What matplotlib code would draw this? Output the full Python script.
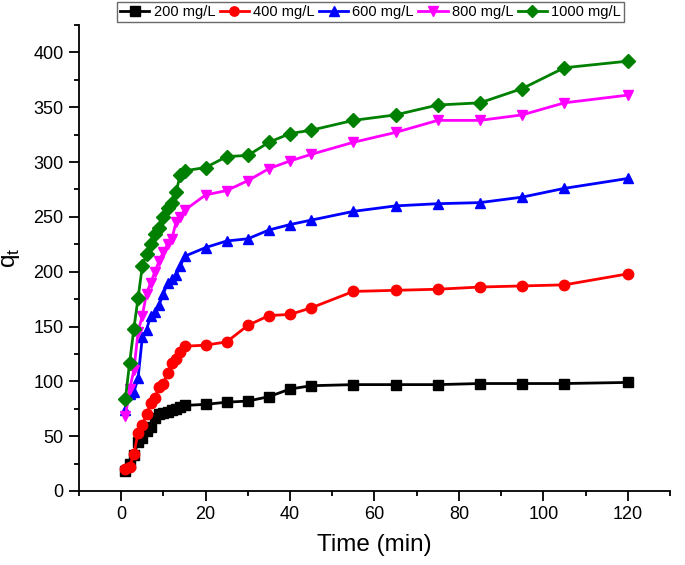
import numpy as np
import matplotlib.pyplot as plt
from matplotlib.ticker import MultipleLocator

plt.rcParams['font.family'] = ['Liberation Sans', 'DejaVu Sans']

# tiempos de contacto (min)
tiempo = [1, 2, 3, 4, 5, 6, 7, 8, 9, 10, 11, 12, 13, 14, 15,
          20, 25, 30, 35, 40, 45, 55, 65, 75, 85, 95, 105, 120]

q_200 = [18, 25, 33, 45, 48, 55, 58, 67, 70, 71, 72, 74, 75, 77, 78,
         79, 81, 82, 86, 93, 96, 97, 97, 97, 98, 98, 98, 99]
q_400 = [20, 22, 34, 53, 60, 70, 80, 85, 95, 98, 108, 117, 120, 127, 132,
         133, 136, 151, 160, 161, 167, 182, 183, 184, 186, 187, 188, 198]
q_600 = [74, 88, 90, 103, 140, 147, 160, 163, 170, 180, 190, 193, 197, 205, 214,
         222, 228, 230, 238, 243, 247, 255, 260, 262, 263, 268, 276, 285]
q_800 = [68, 93, 110, 145, 160, 180, 190, 200, 210, 218, 225, 230, 245, 250, 256,
         270, 274, 283, 294, 301, 307, 318, 327, 338, 338, 343, 354, 361]
q_1000 = [84, 117, 148, 176, 205, 216, 225, 234, 240, 250, 258, 263, 273, 288, 292,
          295, 305, 306, 318, 326, 329, 338, 343, 352, 354, 367, 386, 392]

series = [
    ('200 mg/L', q_200, 'black', 's'),
    ('400 mg/L', q_400, 'red', 'o'),
    ('600 mg/L', q_600, 'blue', '^'),
    ('800 mg/L', q_800, 'magenta', 'v'),
    ('1000 mg/L', q_1000, 'green', 'D'),
]

fig = plt.figure(figsize=(6.85, 5.65), dpi=100)
ax = fig.add_axes([0.1153, 0.1310, 0.8627, 0.8248])

for etiqueta, q, color, marcador in series:
    ms = 7 if marcador == 'D' else 7.5
    ax.plot(tiempo, q, color=color, marker=marcador, markersize=ms,
            linewidth=2, label=etiqueta)

ax.set_xlim(-10, 130)
ax.set_ylim(0, 425)
ax.xaxis.set_major_locator(MultipleLocator(20))
ax.xaxis.set_minor_locator(MultipleLocator(10))
ax.yaxis.set_major_locator(MultipleLocator(50))
ax.yaxis.set_minor_locator(MultipleLocator(25))
ax.spines['top'].set_visible(False)
ax.spines['right'].set_visible(False)
for s in ('left', 'bottom'):
    ax.spines[s].set_linewidth(1.3)
ax.tick_params(which='both', direction='out', width=1.3, labelsize=13, pad=4)
ax.tick_params(which='major', length=7)
ax.tick_params(which='minor', length=3.5)

ax.set_xlabel('Time (min)', fontsize=17.5, labelpad=8)
ax.set_ylabel('q$_\\mathregular{t}$', fontsize=17.5, labelpad=8)

fig.legend(loc='upper center', bbox_to_anchor=(0.541, 1.0), ncol=5,
           fontsize=10.5, frameon=True, fancybox=False, edgecolor='#444444',
           handlelength=2.0, handletextpad=0.3, columnspacing=0.3,
           borderpad=0.2, borderaxespad=0.15, markerscale=0.9)

fig.savefig('out.png', dpi=100)
